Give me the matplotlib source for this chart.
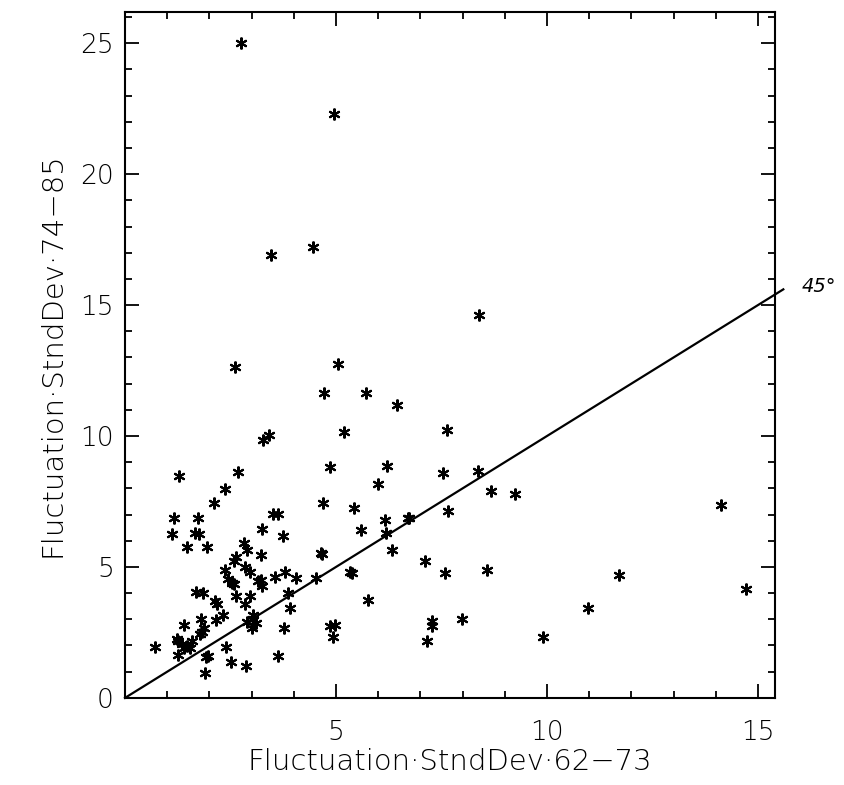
import numpy as np
import matplotlib
matplotlib.use("Agg")
import matplotlib.pyplot as plt
from matplotlib.ticker import MultipleLocator, FixedLocator

# Fluctuation std dev, 1962-73 (x) vs 1974-85 (y)
sd_62_73 = [
    2.74, 4.95, 3.45, 4.45, 2.61, 5.05, 4.72, 5.71, 6.44, 8.39,
    7.62, 7.53, 8.37, 8.67, 9.25, 7.65, 6.74, 14.12, 7.11, 7.59,
    8.57, 11.71, 14.72, 10.96, 7.28, 7.27, 7.98, 7.15, 9.91,
    3.40, 3.28, 5.20, 1.28, 2.67, 2.37, 2.11, 4.86, 6.20, 5.99,
    4.70, 5.43, 1.17, 1.74, 3.63, 3.50, 6.16, 6.71, 1.12, 1.66,
    1.76, 3.25, 3.75, 5.59, 6.18, 1.46, 1.94, 2.82, 2.90, 3.22,
    6.32, 4.64, 4.66, 2.63, 2.57, 2.84, 2.37, 2.96, 2.45, 2.57,
    3.22, 3.24, 3.55, 3.79, 4.05, 4.53, 5.32, 5.37, 1.68, 1.84,
    2.13, 2.17, 2.63, 2.95, 2.84, 3.87, 3.91, 2.32, 2.16, 1.80,
    1.40, 1.87, 1.83, 1.78, 3.04, 3.04, 2.88, 3.10, 3.02, 3.77,
    4.86, 4.98, 4.92, 5.75, 1.25, 0.71, 1.34, 1.46, 1.58, 1.54,
    1.39, 1.25, 1.97, 1.92, 2.39, 2.51, 2.87, 3.62, 1.90, 1.22,
    2.54, 3.16,
]
sd_74_85 = [
    25.0, 22.3, 16.9, 17.2, 12.65, 12.74, 11.65, 11.65, 11.2, 14.63,
    10.24, 8.60, 8.68, 7.91, 7.78, 7.13, 6.86, 7.38, 5.22, 4.77,
    4.90, 4.70, 4.15, 3.42, 2.94, 2.74, 3.00, 2.19, 2.33,
    10.03, 9.83, 10.15, 8.47, 8.64, 7.97, 7.46, 8.83, 8.87, 8.15,
    7.46, 7.26, 6.87, 6.85, 7.04, 7.01, 6.78, 6.88, 6.24, 6.31,
    6.24, 6.43, 6.17, 6.42, 6.31, 5.76, 5.76, 5.92, 5.63, 5.44,
    5.63, 5.54, 5.50, 5.37, 5.24, 4.99, 4.88, 4.80, 4.54, 4.35,
    4.51, 4.28, 4.60, 4.82, 4.58, 4.58, 4.80, 4.78, 4.05, 3.99,
    3.68, 3.58, 3.90, 3.90, 3.60, 4.00, 3.42, 3.17, 2.96, 3.00,
    2.77, 2.65, 2.52, 2.42, 3.17, 3.00, 2.91, 2.87, 2.68, 2.65,
    2.74, 2.78, 2.32, 3.74, 2.19, 1.94, 2.06, 1.97, 2.17, 1.91,
    1.92, 1.65, 1.59, 1.55, 1.94, 1.37, 1.20, 1.59, 0.95, 2.23,
    4.40, 4.47,
]

x_ticks = [5, 10, 15]
y_ticks = [0, 5, 10, 15, 20, 25]
diag = [0, 15.6]   # 45 degree reference line

plt.rcParams['font.family'] = ['DejaVu Sans']
fig = plt.figure(figsize=(8.45, 7.85), dpi=100)
ax = fig.add_axes([0.148, 0.111, 0.769, 0.874])

ax.plot(sd_62_73, sd_74_85, linestyle='none', marker=(6, 2, 0),
        markersize=8.5, markeredgewidth=1.5, color='black')
ax.plot(diag, diag, color='black', linewidth=1.6, clip_on=False)
ax.text(16.45, 15.7, '45°', fontsize=14, style='italic', fontweight='light',
        ha='center', va='center')

ax.set_xlim(0, 15.4)
ax.set_ylim(0, 26.2)
ax.xaxis.set_major_locator(FixedLocator(x_ticks))
ax.yaxis.set_major_locator(FixedLocator(y_ticks))
ax.xaxis.set_minor_locator(MultipleLocator(1))
ax.yaxis.set_minor_locator(MultipleLocator(1))
ax.tick_params(which='both', direction='in', top=True, right=True, width=1.3)
ax.tick_params(which='major', length=10)
ax.tick_params(which='minor', length=5)
ax.tick_params(axis='x', which='major', labelsize=19, pad=16)
ax.tick_params(axis='y', which='major', labelsize=19, pad=8)
for s in ax.spines.values():
    s.set_linewidth(1.5)

ax.set_xlabel('Fluctuation·StndDev·62−73', fontsize=21, fontweight='light', labelpad=2)
ax.set_ylabel('Fluctuation·StndDev·74−85', fontsize=21, fontweight='light', labelpad=10)
for t in ax.get_xticklabels() + ax.get_yticklabels():
    t.set_fontweight('light')

fig.savefig('out.png', dpi=100)
